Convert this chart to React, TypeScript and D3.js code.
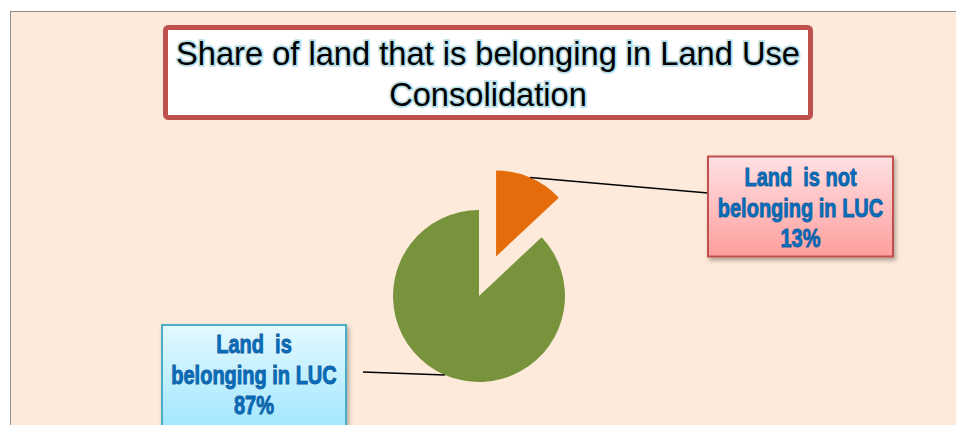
import React from 'react';
import * as d3 from 'd3';

const categories = ['Land  is not belonging in LUC', 'Land  is belonging in LUC'];
const shares = [13, 87];
const labelLines = [
  ['Land  is not', 'belonging in LUC', '13%'],
  ['Land  is', 'belonging in LUC', '87%'],
];
const sliceColors = ['#E46C0A', '#77933C'];
const titleLines = ['Share of land that is belonging in Land Use', 'Consolidation'];

const W = 956;
const H = 425;
const cx = 479;
const cy = 296;
const radius = 86;
const explode = [43, 0];

// label boxes (layout)
const boxes = [
  { x: 708, y: 156.5, w: 185, h: 100, fill: 'url(#redGrad)', stroke: '#C0504D', anchor: [708, 193] },
  { x: 162, y: 325, w: 184, h: 110, fill: 'url(#blueGrad)', stroke: '#4BACC6', anchor: [363, 372] },
];
const firstBaseline = [186, 353];
const lineStep = 30.7;

const font = '"Liberation Sans", Arial, sans-serif';

export default function App() {
  const pie = d3.pie<number>().sort(null).value(d => d)(shares);
  const arc = d3.arc<d3.PieArcDatum<number>>().innerRadius(0).outerRadius(radius);

  const slices = pie.map((p, i) => {
    const mid = (p.startAngle + p.endAngle) / 2;
    const dx = Math.sin(mid) * explode[i];
    const dy = -Math.cos(mid) * explode[i];
    const ox = cx + dx + Math.sin(mid) * radius;
    const oy = cy + dy - Math.cos(mid) * radius;
    return { p, dx, dy, ox, oy };
  });

  return (
    <svg width={W} height={H} style={{ position: 'absolute', left: 0, top: 0 }}>
      <defs>
        <linearGradient id="redGrad" x1="0" y1="0" x2="0" y2="1">
          <stop offset="0%" stopColor="#FFE1E3" />
          <stop offset="100%" stopColor="#FF9E9E" />
        </linearGradient>
        <linearGradient id="blueGrad" x1="0" y1="0" x2="0" y2="1">
          <stop offset="0%" stopColor="#E3F9FF" />
          <stop offset="100%" stopColor="#9EE6FF" />
        </linearGradient>
        <filter id="shadow" x="-10%" y="-10%" width="130%" height="130%">
          <feDropShadow dx="2" dy="3" stdDeviation="2" floodColor="#000" floodOpacity="0.3" />
        </filter>
      </defs>
      <rect x={0} y={0} width={W} height={H} fill="#ffffff" />
      <rect x={10.5} y={11.5} width={W} height={H} fill="#FDEADA" stroke="#8c8c8c" strokeWidth={1} />

      {/* title */}
      <rect x={165.5} y={27.5} width={645} height={90} rx={3} fill="#ffffff" stroke="#C0504D" strokeWidth={5} />
      {titleLines.map((t, i) => (
        <text
          key={t}
          transform={`translate(488,${64.5 + i * 41.5}) scale(0.96,1)`}
          textAnchor="middle"
          fontFamily={font}
          fontSize={34}
          fill="#000"
          stroke="#B7DEE8"
          strokeWidth={3.5}
          style={{ paintOrder: 'stroke' }}
        >
          {t}
        </text>
      ))}

      {/* slices */}
      {slices.map((s, i) => (
        <path
          key={categories[i]}
          d={arc(s.p) || ''}
          transform={`translate(${cx + s.dx},${cy + s.dy})`}
          fill={sliceColors[i]}
        />
      ))}

      {/* leader lines */}
      {slices.map((s, i) => (
        <line
          key={'l' + i}
          x1={s.ox}
          y1={s.oy}
          x2={boxes[i].anchor[0]}
          y2={boxes[i].anchor[1]}
          stroke="#000"
          strokeWidth={1.5}
        />
      ))}

      {/* labels */}
      {boxes.map((b, i) => (
        <g key={'b' + i}>
          <rect x={b.x} y={b.y} width={b.w} height={b.h} fill={b.fill} stroke={b.stroke} strokeWidth={2} filter="url(#shadow)" />
          {labelLines[i].map((t, j) => (
            <text
              key={j}
              transform={`translate(${b.x + b.w / 2},${firstBaseline[i] + j * lineStep}) scale(0.8,1)`}
              textAnchor="middle"
              fontFamily={font}
              fontWeight="bold"
              fontSize={25}
              fill="#0070C0"
              stroke="#1A5E9E"
              strokeWidth={0.9}
              style={{ whiteSpace: 'pre' }}
            >
              {t}
            </text>
          ))}
        </g>
      ))}
    </svg>
  );
}
